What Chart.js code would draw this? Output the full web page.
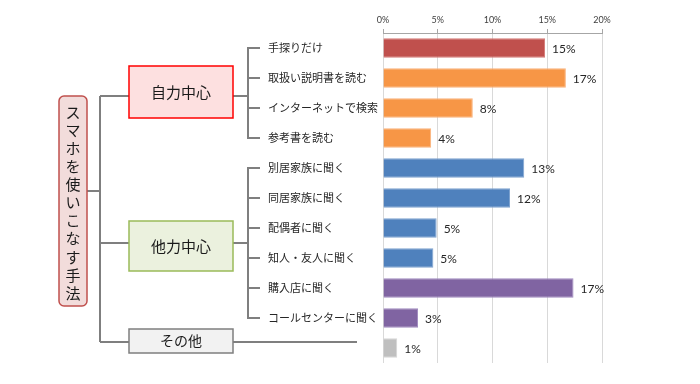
<!DOCTYPE html>
<html lang="ja">
<head>
<meta charset="utf-8">
<script src="https://cdn.jsdelivr.net/npm/chart.js@4"></script>
<style>
  html, body { margin: 0; padding: 0; background: #fff; }
  #wrap { width: 700px; height: 384px; position: relative; }
</style>
</head>
<body>
<div id="wrap"><canvas id="methodChart"></canvas></div>
<script>
// --- DATA ---
const categories = ['手探りだけ', '取扱い説明書を読む', 'インターネットで検索', '参考書を読む',
  '別居家族に聞く', '同居家族に聞く', '配偶者に聞く', '知人・友人に聞く', '購入店に聞く',
  'コールセンターに聞く', 'その他'];
const tickLabels = ['手探りだけ', '取扱い説明書を読む', 'インターネットで検索', '参考書を読む',
  '別居家族に聞く', '同居家族に聞く', '配偶者に聞く', '知人・友人に聞く', '購入店に聞く',
  'コールセンターに聞く', ''];
const values = [14.8, 16.7, 8.2, 4.4, 12.9, 11.6, 4.9, 4.6, 17.4, 3.2, 1.3];
const barColors = ['#C0504D', '#F79646', '#F79646', '#F79646', '#4F81BD', '#4F81BD',
  '#4F81BD', '#4F81BD', '#8064A2', '#8064A2', '#BFBFBF'];
const borderColors = ['#D47A77', '#FAB27A', '#FAB27A', '#FAB27A', '#7FA3D0', '#7FA3D0',
  '#7FA3D0', '#7FA3D0', '#A08AC0', '#A08AC0', '#D6D6D6'];
const xTicks = [0, 5, 10, 15, 20];
const rootTitle = 'スマホを使いこなす手法';
const groupNames = ['自力中心', '他力中心', 'その他'];
const groupRows = [[0, 3], [4, 9], [10, 10]];

const JP_FONT = '"Noto Sans CJK JP", sans-serif';
const NUM_FONT = 'Lato, "Liberation Sans", sans-serif';

// --- バーの右側に値ラベル ---
const valueLabelPlugin = {
  id: 'valueLabels',
  afterDatasetsDraw(chart) {
    const { ctx } = chart;
    const meta = chart.getDatasetMeta(0);
    ctx.save();
    ctx.font = '12px ' + NUM_FONT;
    ctx.fillStyle = '#262626';
    ctx.textAlign = 'left';
    ctx.textBaseline = 'middle';
    meta.data.forEach((bar, i) => {
      ctx.fillText(Math.round(values[i]) + '%', bar.x + 7, bar.y + 1);
    });
    ctx.restore();
  }
};

// --- 左側のツリー図 ---
const treePlugin = {
  id: 'tree',
  afterDraw(chart) {
    const { ctx } = chart;
    const yScale = chart.scales.y;
    const rowY = i => yScale.getPixelForValue(i);
    const lineColor = '#7F7F7F';

    const box = (x, y, w, h, fill, stroke, r) => {
      ctx.beginPath();
      if (r) ctx.roundRect(x, y, w, h, r); else ctx.rect(x, y, w, h);
      ctx.fillStyle = fill;
      ctx.fill();
      ctx.lineWidth = 1.5;
      ctx.strokeStyle = stroke;
      ctx.stroke();
    };
    const line = (x1, y1, x2, y2) => {
      ctx.beginPath();
      ctx.moveTo(x1, y1);
      ctx.lineTo(x2, y2);
      ctx.stroke();
    };

    ctx.save();

    // connectors
    ctx.strokeStyle = lineColor;
    ctx.lineWidth = 2;
    const g0 = (rowY(groupRows[0][0]) + rowY(groupRows[0][1])) / 2 + 3;
    const g1 = (rowY(groupRows[1][0]) + rowY(groupRows[1][1])) / 2;
    const g2 = 342;
    line(87, 191, 100, 191);
    line(100, g0, 100, g2);
    line(100, g0, 129, g0);
    line(100, g1, 129, g1);
    line(100, g2, 129, g2);
    [[g0, 0], [g1, 1]].forEach(([gy, k]) => {
      line(233, gy, 248, gy);
      line(248, rowY(groupRows[k][0]), 248, rowY(groupRows[k][1]));
      for (let i = groupRows[k][0]; i <= groupRows[k][1]; i++) {
        line(247, rowY(i), 260, rowY(i));
      }
    });
    line(233, g2, 357, g2);

    // root box (vertical text)
    box(59, 96, 28, 210, '#F2DCDB', '#C0504D', 5);
    ctx.fillStyle = '#1a1a1a';
    ctx.font = '15px ' + JP_FONT;
    ctx.textAlign = 'center';
    ctx.textBaseline = 'middle';
    [...rootTitle].forEach((ch, i) => ctx.fillText(ch, 73, 112 + i * 18.1));

    // group boxes
    box(129, 66, 104, 52, '#FDE0E0', '#FF0000');
    box(129, 221, 104, 50, '#EBF1DE', '#9BBB59');
    box(129, 329, 104, 24, '#F2F2F2', '#7F7F7F');
    ctx.fillStyle = '#1a1a1a';
    ctx.font = '15px ' + JP_FONT;
    ctx.fillText(groupNames[0], 181, 92);
    ctx.fillText(groupNames[1], 181, 246);
    ctx.font = '14px ' + JP_FONT;
    ctx.fillText(groupNames[2], 181, 341);

    ctx.restore();
  }
};

const ctx = document.getElementById('methodChart').getContext('2d');
new Chart(ctx, {
  type: 'bar',
  data: {
    labels: tickLabels,
    datasets: [{
      label: 'スマホを使いこなす手法',
      data: values,
      backgroundColor: barColors,
      borderColor: borderColors,
      borderWidth: 1,
      barPercentage: 0.65,
      categoryPercentage: 1
    }]
  },
  options: {
    indexAxis: 'y',
    responsive: true,
    maintainAspectRatio: false,
    animation: false,
    layout: { padding: { left: 268, right: 98, top: 0, bottom: 21 } },
    plugins: {
      legend: { display: false },
      tooltip: { enabled: false }
    },
    scales: {
      x: {
        position: 'top',
        min: 0,
        max: 20,
        afterBuildTicks: scale => { scale.ticks = xTicks.map(v => ({ value: v })); },
        afterFit: scale => { scale.height = 33; },
        ticks: {
          callback: v => v + '%',
          font: { size: 9, family: NUM_FONT },
          color: '#404040',
          padding: 4,
          maxRotation: 0
        },
        grid: { color: '#D9D9D9', tickColor: '#A6A6A6', tickLength: 4 },
        border: { display: true, color: '#A6A6A6' }
      },
      y: {
        afterFit: scale => { scale.width = 115; },
        grid: { display: false },
        border: { display: false },
        ticks: {
          crossAlign: 'far',
          autoSkip: false,
          font: { size: 11, family: JP_FONT },
          color: '#262626'
        }
      }
    }
  },
  plugins: [valueLabelPlugin, treePlugin]
});
</script>
</body>
</html>
